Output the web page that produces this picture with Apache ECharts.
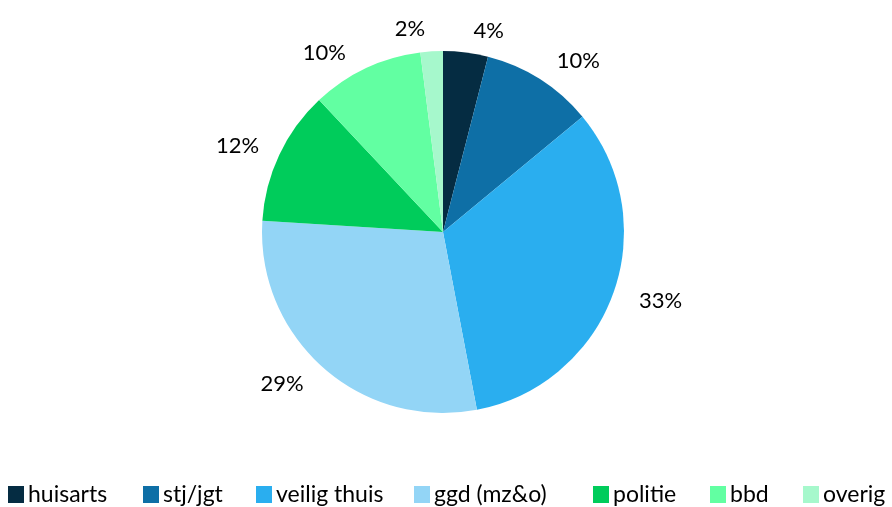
<!DOCTYPE html>
<html>
<head>
<meta charset="utf-8">
<script src="https://cdn.jsdelivr.net/npm/echarts@6/dist/echarts.min.js"></script>
<style>
html, body { margin: 0; padding: 0; background: #fff; }
#chart { width: 892px; height: 507px; }
</style>
</head>
<body>
<div id="chart"></div>
<script>
var categories = ["huisarts", "stj/jgt", "veilig thuis", "ggd (mz&o)", "politie", "bbd", "overig"];
var shares = [4, 10, 33, 29, 12, 10, 2];
var colors = ["#052c42", "#0e6fa6", "#2aaeef", "#93d5f6", "#00cc5b", "#62ffa2", "#a6f8cc"];
var legendLeft = [8, 143, 256, 414, 593, 710, 803];

var font = "Lato, 'Open Sans', sans-serif";

var chart = echarts.init(document.getElementById("chart"));

var legends = categories.map(function(name, i){
	return {
		data: [name],
		left: legendLeft[i],
		top: 483,
		padding: 0,
		icon: "rect",
		itemWidth: 16,
		itemHeight: 17,
		itemGap: 4,
		selectedMode: false,
		textStyle: { fontFamily: font, fontSize: 23, color: "#000", padding: [0, 0, 0, -1] }
	};
});

var pieData = categories.map(function(name, i){
	return { name: name, value: shares[i], itemStyle: { color: colors[i] } };
});

chart.setOption({
	animation: false,
	color: colors,
	legend: legends,
	series: [{
		type: "pie",
		center: [443, 232],
		radius: 181,
		startAngle: 90,
		clockwise: true,
		data: pieData,
		itemStyle: { borderWidth: 0 },
		label: {
			show: true,
			position: "outside",
			formatter: "{c}%",
			fontFamily: font,
			fontSize: 22,
			color: "#000"
		},
		labelLine: { show: false, length: 22, length2: 0 },
		emphasis: { disabled: true }
	}]
});
</script>
</body>
</html>
